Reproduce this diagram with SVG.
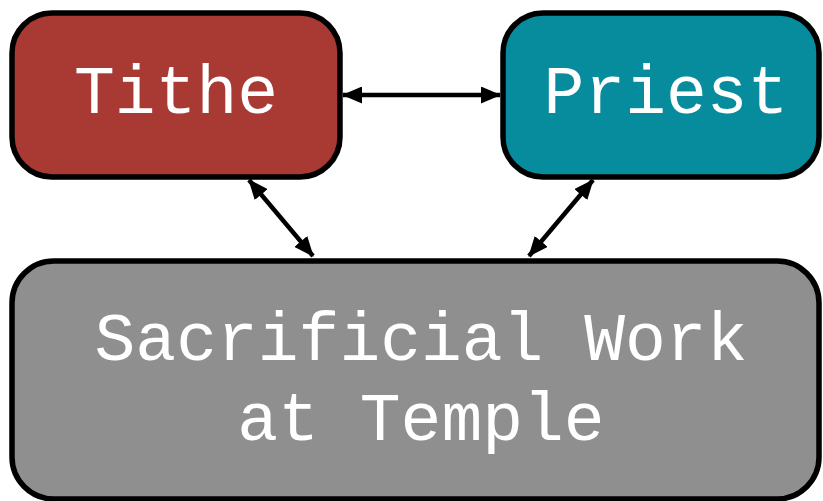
<svg xmlns="http://www.w3.org/2000/svg" width="823" height="501" viewBox="0 0 823 501">
  <defs>
    <marker id="head" viewBox="0 0 20 17" refX="19" refY="8.5" markerWidth="20" markerHeight="17" orient="auto-start-reverse" markerUnits="userSpaceOnUse">
      <path d="M0,0 L20,8.5 L0,17 z" fill="#000"/>
    </marker>
    <style>
      .box { stroke: #000; stroke-width: 5.5; }
      .label { font-family: "Liberation Mono", "Courier New", monospace; font-size: 68px; fill: #fff; text-anchor: middle; }
      .link { stroke: #000; stroke-width: 4.5; fill: none; marker-start: url(#head); marker-end: url(#head); }
    </style>
  </defs>
  <rect width="823" height="501" fill="#fff"/>

  <g id="connectors">
    <line class="link" x1="343" y1="95" x2="500" y2="95"/>
    <line class="link" x1="249" y1="180" x2="313" y2="256"/>
    <line class="link" x1="593" y1="180" x2="529" y2="256"/>
  </g>

  <g id="tithe">
    <rect class="box" x="12" y="13" width="328" height="164" rx="40" fill="#A83933"/>
    <text class="label" x="176" y="113">Tithe</text>
  </g>

  <g id="priest">
    <rect class="box" x="503" y="13" width="316" height="164" rx="40" fill="#078C9E"/>
    <text class="label" x="666" y="113">Priest</text>
  </g>

  <g id="sacrificial-work">
    <rect class="box" x="12" y="261" width="807" height="238" rx="42" fill="#8F8F8F"/>
    <text class="label" x="421" y="360">Sacrificial Work</text>
    <text class="label" x="421" y="440">at Temple</text>
  </g>
</svg>
